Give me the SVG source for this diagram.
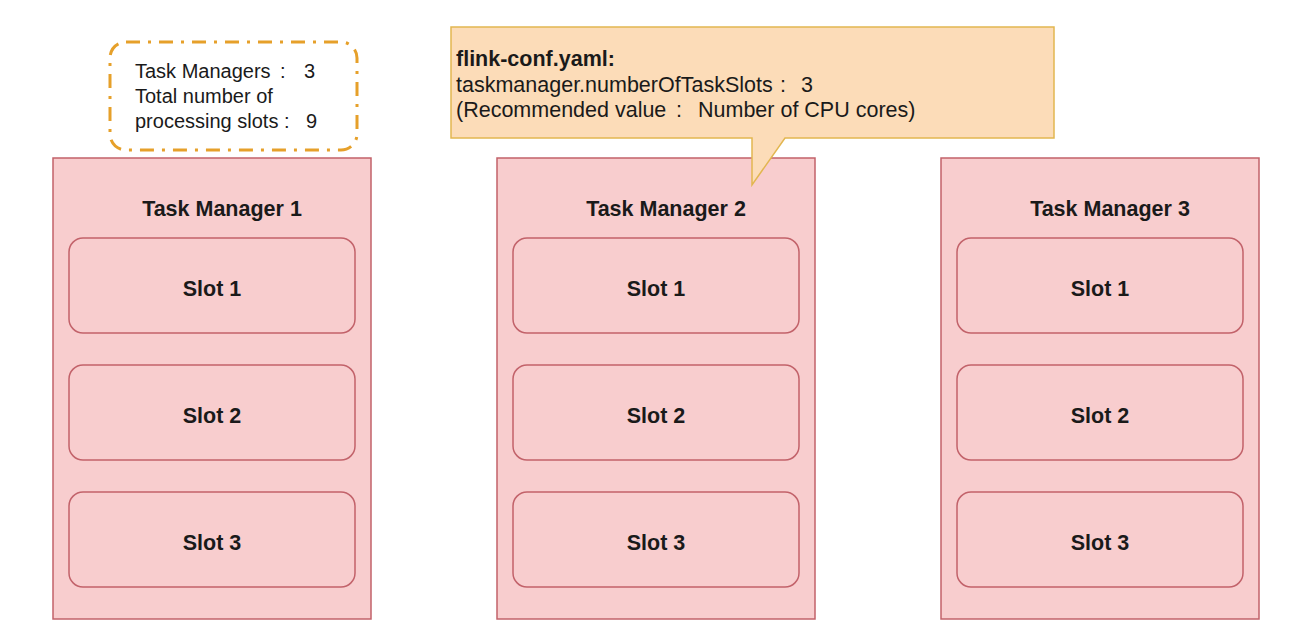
<svg xmlns="http://www.w3.org/2000/svg" width="1316" height="642" viewBox="0 0 1316 642">
<style>
.tm{fill:#f8cdce;stroke:#c2626a;stroke-width:1.5}
.slot{fill:#f8cdce;stroke:#c2626a;stroke-width:1.5}
.t{font-family:"Liberation Sans","Noto Sans CJK SC",sans-serif;fill:#1a1a1a}
.b{font-weight:bold;font-size:21.5px;text-anchor:middle}
.s{font-size:20px}
.c{font-size:21.5px}
</style>
<rect width="1316" height="642" fill="#ffffff"/>
<g id="summary">
<rect x="110" y="42" width="247" height="108" rx="16" fill="#ffffff" stroke="#e6a02a" stroke-width="3" stroke-dasharray="14 8 3 8"/>
<text class="t s" x="135" y="78">Task Managers<tspan x="280">:</tspan><tspan x="304">3</tspan></text>
<text class="t s" x="135" y="103">Total number of</text>
<text class="t s" x="135" y="128">processing slots<tspan x="284">:</tspan><tspan x="306">9</tspan></text>
</g>
<g id="tm1">
<rect class="tm" x="53" y="158" width="318" height="461"/>
<text class="t b" x="222" y="216">Task Manager 1</text>
<g id="tm1-slot1"><rect class="slot" x="69" y="238" width="286" height="95" rx="14"/><text class="t b" x="212" y="296">Slot 1</text></g>
<g id="tm1-slot2"><rect class="slot" x="69" y="365" width="286" height="95" rx="14"/><text class="t b" x="212" y="423">Slot 2</text></g>
<g id="tm1-slot3"><rect class="slot" x="69" y="492" width="286" height="95" rx="14"/><text class="t b" x="212" y="550">Slot 3</text></g>
</g>
<g id="tm2">
<rect class="tm" x="497" y="158" width="318" height="461"/>
<text class="t b" x="666" y="216">Task Manager 2</text>
<g id="tm2-slot1"><rect class="slot" x="513" y="238" width="286" height="95" rx="14"/><text class="t b" x="656" y="296">Slot 1</text></g>
<g id="tm2-slot2"><rect class="slot" x="513" y="365" width="286" height="95" rx="14"/><text class="t b" x="656" y="423">Slot 2</text></g>
<g id="tm2-slot3"><rect class="slot" x="513" y="492" width="286" height="95" rx="14"/><text class="t b" x="656" y="550">Slot 3</text></g>
</g>
<g id="tm3">
<rect class="tm" x="941" y="158" width="318" height="461"/>
<text class="t b" x="1110" y="216">Task Manager 3</text>
<g id="tm3-slot1"><rect class="slot" x="957" y="238" width="286" height="95" rx="14"/><text class="t b" x="1100" y="296">Slot 1</text></g>
<g id="tm3-slot2"><rect class="slot" x="957" y="365" width="286" height="95" rx="14"/><text class="t b" x="1100" y="423">Slot 2</text></g>
<g id="tm3-slot3"><rect class="slot" x="957" y="492" width="286" height="95" rx="14"/><text class="t b" x="1100" y="550">Slot 3</text></g>
</g>
<g id="callout">
<path d="M451,27 H1054 V138 H785 L752,185 V138 H451 Z" fill="#fcdcb8" stroke="#e2b650" stroke-width="1.5"/>
<text class="t c" x="456" y="66" font-weight="bold">flink-conf.yaml:</text>
<text class="t c" x="456" y="92">taskmanager.numberOfTaskSlots<tspan x="780">:</tspan><tspan x="801">3</tspan></text>
<text class="t c" x="456" y="117">(Recommended value<tspan x="676">:</tspan><tspan x="698">Number of CPU cores)</tspan></text>
</g>
<g id="connectors"></g>
</svg>
